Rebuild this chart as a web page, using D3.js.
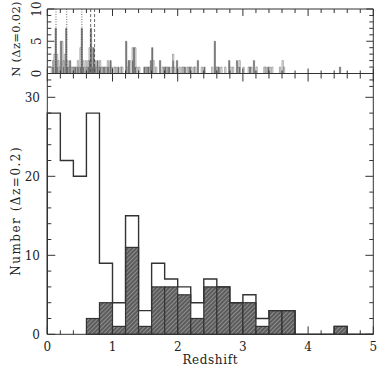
<!DOCTYPE html>
<html><head><meta charset="utf-8">
<script src="https://cdn.jsdelivr.net/npm/d3@7"></script>
<style>html,body{margin:0;padding:0;background:#fff;}svg{display:block;}</style>
</head><body>
<script>
// ---- Data ----
// Bottom panel: bins of dz = 0.2 from 0 to 5
const coarseBinStarts = [0,0.2,0.4,0.6,0.8,1.0,1.2,1.4,1.6,1.8,2.0,2.2,2.4,2.6,2.8,3.0,3.2,3.4,3.6,3.8,4.0,4.2,4.4,4.6,4.8];
const coarseAll  = [28,22,20,28,9,4,15,3,9,7,6,4,7,6,4,5,2,3,3,0,0,0,1,0,0];
const coarseSpec = [0,0,0,2,4,1,11,1,6,6,5,2,6,6,4,4,1,3,3,0,0,0,1,0,0];
// Top panel: bins of dz = 0.02 (bin index -> z = index*0.02)
const fineBinIndex = [3,4,5,6,7,8,9,10,11,12,13,14,15,16,17,18,19,20,21,22,23,24,25,26,27,28,29,30,31,32,33,34,35,36,37,38,39,40,41,42,43,44,45,46,47,48,49,51,52,54,56,57,60,61,62,63,65,66,67,68,70,74,75,76,77,78,79,80,81,83,86,88,89,90,91,92,93,95,96,97,99,101,103,104,105,107,108,109,110,112,113,115,118,120,126,128,129,130,131,133,136,139,140,142,145,146,147,150,154,155,156,158,160,166,167,169,170,172,178,180,181,224];
const fineAll    = [1,2,3,7,3,2,1,5,5,2,3,7,2,1,2,1,1,1,1,1,2,1,4,7,2,1,2,1,2,4,7,4,4,2,1,2,1,2,1,1,1,1,1,2,1,2,1,1,1,1,1,1,5,1,2,2,4,4,4,1,1,1,1,1,1,1,2,4,2,1,2,1,1,1,1,1,1,1,3,1,2,1,1,1,1,1,1,1,1,1,1,2,1,1,1,5,1,1,1,1,1,2,1,1,2,1,2,1,1,1,1,2,1,1,1,1,1,1,1,2,1,1];
const fineSpec   = [0,1,0,7,1,0,0,5,0,1,0,7,1,0,2,0,0,0,1,0,1,0,1,7,1,0,0,0,1,2,7,1,4,1,0,2,0,1,0,0,1,0,0,1,0,2,0,0,0,1,0,0,5,0,2,0,2,4,1,0,0,1,0,0,1,0,2,4,0,0,2,0,0,1,0,0,1,0,2,0,2,0,0,0,1,0,0,1,0,0,0,2,0,1,0,5,0,0,1,0,0,2,0,0,2,0,1,0,0,1,0,2,0,0,0,1,0,0,0,0,0,1];
const dottedLinesZ = [0.133, 0.298, 0.53];
const dashedLinesZ = [0.665, 0.725];
const xTicks = [0,1,2,3,4,5];
const bottomYTicks = [0,10,20,30];
const topYTicks = [0,5,10];
const xLabel = "Redshift";
const bottomYLabel = "Number (\u0394z=0.2)";
const topYLabel = "N (\u0394z=0.02)";

// ---- Layout ----
const W = 378, H = 366;
const left = 47.3, right = 373.3;
const topTop = 9, topZero = 73.5;
const botBottom = 334.3, bot30 = 97.3;
const ink = "#333";
const font = "'DejaVu Serif', serif";

const svg = d3.select("body").append("svg").attr("width", W).attr("height", H);
const defs = svg.append("defs");
const pat = defs.append("pattern").attr("id","hatch").attr("patternUnits","userSpaceOnUse")
  .attr("width",3).attr("height",3).attr("patternTransform","rotate(45)");
pat.append("rect").attr("width",3).attr("height",3).attr("fill","#5c5c5c");
pat.append("rect").attr("width",1).attr("height",3).attr("fill","#8e8e8e");

const x = d3.scaleLinear().domain([0,5]).range([left,right]);
const yB = d3.scaleLinear().domain([0,30]).range([botBottom,bot30]);
const yT = d3.scaleLinear().domain([0,10]).range([topZero,topTop]);

// ---- Bottom panel histograms ----
const cw = 0.2;
const spec = svg.append("g");
coarseBinStarts.forEach((z,i) => {
  const n = coarseSpec[i];
  if (n > 0) {
    spec.append("rect").attr("x", x(z)).attr("y", yB(n))
      .attr("width", x(z+cw)-x(z)).attr("height", yB(0)-yB(n))
      .attr("fill","url(#hatch)").attr("stroke",ink).attr("stroke-width",1.2);
  }
});
let p = d3.path();
p.moveTo(x(0), yB(0));
coarseBinStarts.forEach((z,i) => { p.lineTo(x(z), yB(coarseAll[i])); p.lineTo(x(z+cw), yB(coarseAll[i])); });
p.lineTo(x(5), yB(0));
svg.append("path").attr("d", p.toString()).attr("fill","none").attr("stroke",ink).attr("stroke-width",1.4);

// ---- Top panel histograms ----
const fw = 0.02;
const topG = svg.append("g");
fineBinIndex.forEach((b,i) => {
  const z = b*fw, n = fineSpec[i];
  if (n > 0) topG.append("rect").attr("x", x(z)).attr("y", yT(n))
    .attr("width", x(z+fw)-x(z)).attr("height", yT(0)-yT(n)).attr("fill","#666");
});
fineBinIndex.forEach((b,i) => {
  const z = b*fw, n = fineAll[i];
  const q = d3.path();
  q.moveTo(x(z), yT(0)); q.lineTo(x(z), yT(n)); q.lineTo(x(z+fw), yT(n)); q.lineTo(x(z+fw), yT(0));
  topG.append("path").attr("d", q.toString()).attr("fill","none").attr("stroke","#777").attr("stroke-width",0.6);
});
dottedLinesZ.forEach(z => svg.append("line").attr("x1",x(z)).attr("x2",x(z)).attr("y1",topTop).attr("y2",topZero)
  .attr("stroke","#444").attr("stroke-width",0.8).attr("stroke-dasharray","1,1.5"));
dashedLinesZ.forEach(z => svg.append("line").attr("x1",x(z)).attr("x2",x(z)).attr("y1",topTop).attr("y2",topZero)
  .attr("stroke","#444").attr("stroke-width",0.8).attr("stroke-dasharray","3,2"));

// ---- Frame & ticks ----
const fr = svg.append("g").attr("stroke",ink).attr("stroke-width",1).attr("fill","none");
fr.append("line").attr("x1",left).attr("x2",left).attr("y1",topTop).attr("y2",botBottom);
fr.append("line").attr("x1",right).attr("x2",right).attr("y1",topTop).attr("y2",botBottom);
fr.append("line").attr("x1",left).attr("x2",right).attr("y1",topTop).attr("y2",topTop);
fr.append("line").attr("x1",left).attr("x2",right).attr("y1",botBottom).attr("y2",botBottom);
fr.append("line").attr("x1",left).attr("x2",right).attr("y1",topZero).attr("y2",topZero);

const xMinor = d3.range(0, 26).map(i => i*0.2);
xMinor.forEach(z => {
  const major = Math.abs(z - Math.round(z)) < 1e-6;
  const X = x(z);
  fr.append("line").attr("x1",X).attr("x2",X).attr("y1",topTop).attr("y2",topTop+(major?7:4));
  fr.append("line").attr("x1",X).attr("x2",X).attr("y1",topZero-(major?5:3)).attr("y2",topZero+(major?8:5));
  fr.append("line").attr("x1",X).attr("x2",X).attr("y1",botBottom).attr("y2",botBottom-(major?8:4));
});
d3.range(-2, 11).forEach(v => {
  const major = v % 5 === 0;
  const Y = yT(v), L = major ? 7 : 4;
  fr.append("line").attr("x1",left).attr("x2",left+L).attr("y1",Y).attr("y2",Y);
  fr.append("line").attr("x1",right).attr("x2",right-L).attr("y1",Y).attr("y2",Y);
});
d3.range(0, 31, 2).forEach(v => {
  const major = v % 10 === 0;
  const Y = yB(v), L = major ? 8 : 4;
  fr.append("line").attr("x1",left).attr("x2",left+L).attr("y1",Y).attr("y2",Y);
  fr.append("line").attr("x1",right).attr("x2",right-L).attr("y1",Y).attr("y2",Y);
});

// ---- Labels ----
const txt = svg.append("g").attr("font-family",font).attr("fill","#222").attr("font-size",12);
xTicks.forEach(v => txt.append("text").attr("x",x(v)).attr("y",351).attr("text-anchor","middle").text(v));
bottomYTicks.forEach(v => txt.append("text").attr("x",40).attr("y",yB(v)+4.3).attr("text-anchor","end").text(v));
topYTicks.forEach(v => txt.append("text").attr("transform",`translate(41,${yT(v)}) rotate(-90)`).attr("text-anchor","middle").text(v));
txt.append("text").attr("x",(left+right)/2).attr("y",364).attr("text-anchor","middle").attr("letter-spacing",0.6).text(xLabel);
txt.append("text").attr("transform",`translate(20,${(bot30+botBottom)/2 - 5}) rotate(-90)`).attr("text-anchor","middle").attr("letter-spacing",1.5).text(bottomYLabel);
txt.append("text").attr("transform",`translate(19.5,39) rotate(-90)`).attr("text-anchor","middle").attr("font-size",11.5).attr("letter-spacing",0.3).text(topYLabel);
</script>
</body></html>
